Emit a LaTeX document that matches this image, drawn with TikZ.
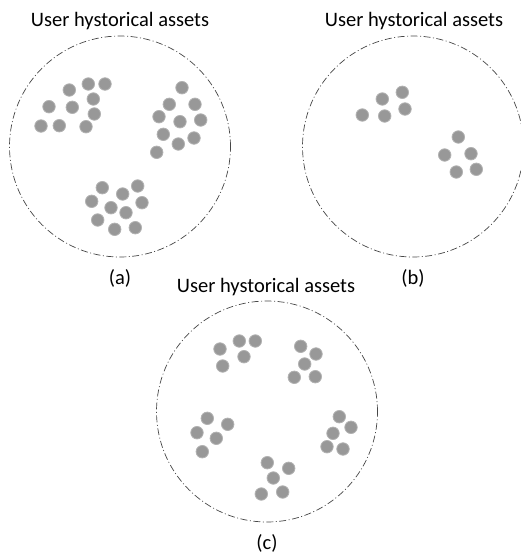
\documentclass[tikz,border=0pt]{standalone}
\usepackage{fontspec}
\setmainfont{Carlito}
\definecolor{dotfill}{RGB}{152,152,152}
\definecolor{dotedge}{RGB}{178,178,178}
\definecolor{ringline}{RGB}{70,70,70}
\begin{document}
\begin{tikzpicture}[x=1pt,y=-1pt,
  asset/.style={circle,fill=dotfill,draw=dotedge,line width=0.8pt,minimum size=12.5pt,inner sep=0pt},
  ring/.style={circle,draw=ringline,line width=0.7pt,dash pattern=on 7pt off 2.5pt on 1pt off 2.5pt,minimum size=221pt,inner sep=0pt},
  caption/.style={font=\fontsize{20.5}{24}\selectfont,inner sep=0pt}]
\useasboundingbox (0,0) rectangle (521,555);

% panel (a)
\node[ring] (ringA) at (120,146.5) {};
\node[caption] (titleA) at (120,21) {User hystorical assets};
\node[caption] (labelA) at (120,278) {(a)};
\foreach \px/\py [count=\i] in {88.3/84,105/84,69.3/90,93.3/99,49/106.7,72.3/107.3,94.3/114,41/126,59.3/125.7,86/126.7,
  182/87.7,169.3/104.3,195/104.3,159/116.7,180/121.7,200.7/120,163.3/134.3,178.3/144,194/138,156.7/152.3,
  102.3/187.7,137.7/186,122.7/194,91.7/201.3,142/202.7,111/207.7,126/212.7,97.7/220,114.7/229.3,135.3/227.7}
  \node[asset] (a\i) at (\px,\py) {};

% panel (b)
\node[ring] (ringB) at (413,146.5) {};
\node[caption] (titleB) at (414,21) {User hystorical assets};
\node[caption] (labelB) at (413,278) {(b)};
\foreach \px/\py [count=\i] in {402.3/92.3,382.3/99,405/109,362.3/115,384.7/116,
  458.3/137,444.7/155,471/153.7,456.3/172,476.3/169.3}
  \node[asset] (b\i) at (\px,\py) {};

% panel (c)
\node[ring] (ringC) at (267,411.5) {};
\node[caption] (titleC) at (266,287) {User hystorical assets};
\node[caption] (labelC) at (267,543) {(c)};
\foreach \px/\py [count=\i] in {239.3/341,255.3/341,220/349,244/356.7,222.7/366,
  300.7/346.3,316/354,304.7/364,294.3/377.3,315.3/376.7,
  207.3/418.3,227.7/424.3,197/432.7,216.3/438.3,202.3/451.7,
  339.3/416.7,351/427.3,333/433.3,327/446.7,343/449,
  267.3/462.7,288.7/468.3,273.3/478,261.3/494,282.7/492}
  \node[asset] (c\i) at (\px,\py) {};
\end{tikzpicture}
\end{document}
